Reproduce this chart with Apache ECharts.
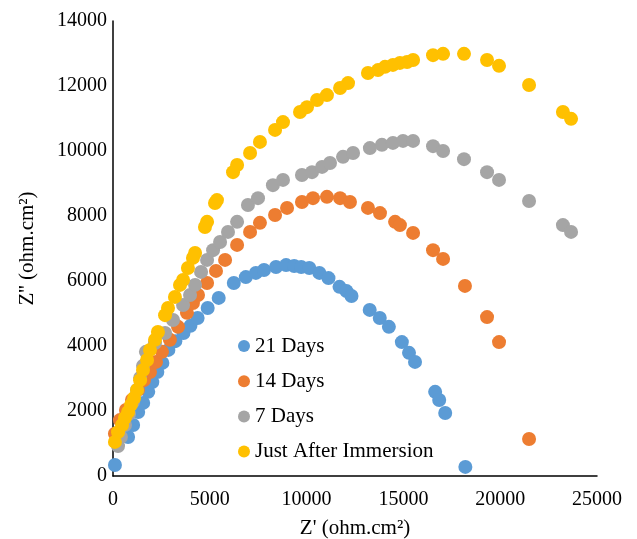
<!DOCTYPE html>
<html>
<head>
<meta charset="utf-8">
<script src="https://cdn.jsdelivr.net/npm/echarts@6/dist/echarts.min.js"></script>
<style>
  html, body { margin: 0; padding: 0; background: #fff; }
  #chart { width: 637px; height: 539px; }
</style>
</head>
<body>
<div id="chart"></div>
<script>
// Nyquist data: [Z', Z'']
const seriesNames = ["21 Days", "14 Days", "7 Days", "Just After Immersion"];

const days21 = [
  [100, 340], [780, 1200], [1040, 1570], [1300, 1970], [1560, 2250], [1820, 2590],
  [2030, 2890], [2290, 3200], [2550, 3480], [2860, 3880], [3220, 4150], [3640, 4400],
  [4000, 4620], [4370, 4860], [4890, 5170], [5460, 5480], [6240, 5940], [6860, 6120],
  [7380, 6250], [7800, 6340], [8420, 6430], [8940, 6490], [9360, 6460], [9720, 6430],
  [10140, 6400], [10660, 6250], [11130, 6090], [11700, 5820], [12060, 5690], [12320, 5540],
  [13260, 5110], [13780, 4860], [14250, 4590], [14920, 4120], [15290, 3790], [15600, 3510],
  [16640, 2590], [16850, 2340], [17160, 1940], [18200, 280]
];

const days14 = [
  [100, 1300], [360, 1720], [670, 2030], [980, 2340], [1290, 2650], [1600, 2950],
  [1910, 3200], [2220, 3510], [2530, 3820], [2940, 4190], [3360, 4590], [3820, 5020],
  [4130, 5320], [4390, 5570], [4860, 5940], [5320, 6310], [5790, 6650], [6410, 7110],
  [7080, 7510], [7590, 7790], [8370, 8030], [8990, 8250], [9760, 8430], [10330, 8550],
  [11050, 8590], [11730, 8550], [12240, 8430], [13170, 8250], [13790, 8090], [14570, 7820],
  [14820, 7720], [15500, 7480], [16530, 6950], [17050, 6680], [18180, 5850], [19320, 4890],
  [19940, 4120], [21490, 1140]
];

const days7 = [
  [260, 920], [410, 1200], [620, 1570], [830, 1910], [1030, 2280], [1240, 2650],
  [1400, 3020], [1550, 3390], [1700, 3820], [2170, 4090], [2690, 4400], [3100, 4800],
  [3620, 5260], [3980, 5570], [4240, 5880], [4550, 6280], [4860, 6650], [5170, 6950],
  [5530, 7200], [5940, 7510], [6410, 7820], [6970, 8340], [7490, 8550], [8260, 8950],
  [8780, 9110], [9760, 9260], [10280, 9350], [10800, 9510], [11210, 9630], [11880, 9820],
  [12400, 9940], [13270, 10090], [13890, 10190], [14460, 10250], [14980, 10310], [15500, 10310],
  [16530, 10150], [17050, 10000], [18130, 9750], [19320, 9350], [19940, 9110], [21490, 8460],
  [23240, 7720], [23660, 7510]
];

const justAfter = [
  [100, 1050], [260, 1350], [470, 1570], [620, 1790], [780, 1970], [930, 2190],
  [1090, 2400], [1240, 2650], [1400, 2950], [1550, 3260], [1760, 3570], [1910, 3880],
  [2170, 4190], [2320, 4430], [2690, 4950], [2840, 5170], [3200, 5510], [3460, 5880],
  [3620, 6030], [3870, 6400], [4130, 6710], [4240, 6860], [4750, 7660], [4860, 7820],
  [5270, 8400], [5370, 8490], [6200, 9350], [6410, 9570], [7080, 9940], [7590, 10280],
  [8370, 10650], [8780, 10890], [9660, 11200], [10020, 11350], [10540, 11570], [11050, 11720],
  [11730, 11940], [12140, 12090], [13170, 12400], [13690, 12490], [14050, 12590], [14460, 12650],
  [14820, 12710], [15190, 12740], [15500, 12800], [16530, 12950], [17050, 12990], [18130, 12990],
  [19320, 12800], [19940, 12620], [21490, 12030], [23240, 11200], [23660, 10990]
];

const colors = ["#5B9BD5", "#ED7D31", "#A5A5A5", "#FFC000"];
const fontFamily = "'Liberation Serif', 'Times New Roman', serif";

const chart = echarts.init(document.getElementById("chart"));

const option = {
  animation: false,
  color: colors,
  textStyle: { fontFamily: fontFamily, color: "#000" },
  grid: {
    left: 113, right: 40, top: 21, bottom: 63,
    containLabel: false,
    outerBoundsMode: "none"
  },
  legend: {
    orient: "vertical",
    left: 233,
    top: 330.5,
    icon: "circle",
    itemWidth: 12,
    itemHeight: 12,
    itemGap: 14.2,
    textStyle: { fontSize: 21, fontFamily: fontFamily, color: "#000" },
    data: seriesNames
  },
  xAxis: {
    type: "value",
    min: 0,
    max: 25000,
    interval: 5000,
    name: "Z' (ohm.cm²)",
    nameLocation: "middle",
    nameGap: 42,
    nameTextStyle: { fontSize: 21, fontFamily: fontFamily, color: "#000" },
    axisLine: { show: true, lineStyle: { color: "#000", width: 1.5 } },
    axisTick: { show: false },
    splitLine: { show: false },
    axisLabel: {
      fontSize: 20, color: "#000", fontFamily: fontFamily, margin: 14,
      formatter: v => String(v)
    }
  },
  yAxis: {
    type: "value",
    min: 0,
    max: 14000,
    interval: 2000,
    name: "Z'' (ohm.cm²)",
    nameLocation: "middle",
    nameRotate: 90,
    nameGap: 75,
    nameTextStyle: { fontSize: 21, fontFamily: fontFamily, color: "#000" },
    axisLine: { show: true, lineStyle: { color: "#000", width: 1.5 } },
    axisTick: { show: false },
    splitLine: { show: false },
    axisLabel: {
      fontSize: 20, color: "#000", fontFamily: fontFamily, margin: 6,
      formatter: v => String(v)
    }
  },
  series: [days21, days14, days7, justAfter].map((d, i) => ({
    name: seriesNames[i],
    type: "scatter",
    symbol: "circle",
    symbolSize: 14,
    data: d,
    itemStyle: { color: colors[i], opacity: 1 }
  }))
};

chart.setOption(option);
</script>
</body>
</html>
